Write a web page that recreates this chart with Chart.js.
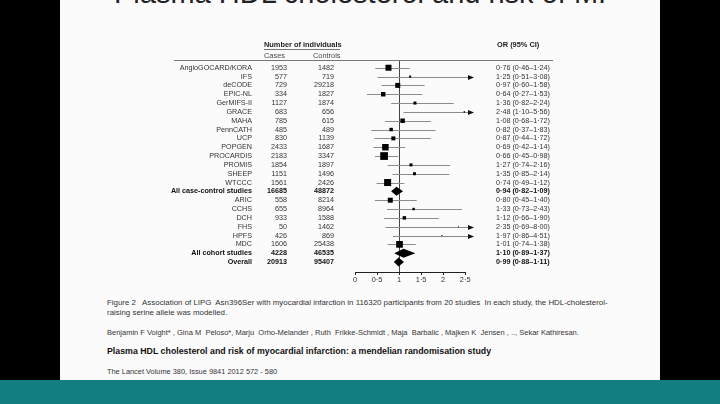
<!DOCTYPE html>
<html>
<head>
<meta charset="utf-8">
<script src="https://cdn.jsdelivr.net/npm/chart.js@4.4.1/dist/chart.umd.min.js"></script>
<style>
  html, body { margin: 0; padding: 0; }
  body { width: 720px; height: 404px; background: #000; position: relative; overflow: hidden; font-family: 'Liberation Sans', sans-serif; }
  #paper { position: absolute; left: 60px; top: 0; width: 600px; height: 380px; background: #fcfbfc; }
  #band { position: absolute; left: 0; top: 380px; width: 720px; height: 24px; background: #127e7f; }
  #slideTitle { position: absolute; left: 114px; top: -21px; font-size: 29px; line-height: 28px; color: #222; white-space: nowrap; }
  .cap { position: absolute; left: 107px; font-size: 7.4px; color: #333; white-space: nowrap; }
  #wrap { position: absolute; left: 0; top: 0; width: 720px; height: 404px; }
</style>
</head>
<body>
<div id="paper"></div>
<div id="band"></div>
<div id="slideTitle">Plasma HDL cholesterol and risk of MI</div>
<div class="cap" style="top:298px; font-size:7.9px">Figure 2&nbsp;&nbsp; Association of LIPG&nbsp; Asn396Ser with myocardial infarction in 116320 participants from 20 studies&nbsp; In each study, the HDL-cholesterol-</div>
<div class="cap" style="top:308px; font-size:7.9px">raising serine allele was modelled.</div>
<div class="cap" style="top:328px; font-size:7.5px">Benjamin F Voight* , Gina M&nbsp; Peloso*, Marju&nbsp; Orho-Melander , Ruth&nbsp; Frikke-Schmidt , Maja&nbsp; Barbalic , Majken K&nbsp; Jensen , .., Sekar Kathiresan.</div>
<div class="cap" style="top:346px; font-weight:bold; font-size:8.8px; color:#111">Plasma HDL cholesterol and risk of myocardial infarction: a mendelian randomisation study</div>
<div class="cap" style="top:367px">The Lancet Volume 380, Issue 9841 2012 572 - 580</div>
<div id="wrap"><canvas id="forest" width="720" height="404"></canvas></div>
<script>
// study rows, top to bottom
const studies = ['AngioGOCARD/KORA', 'IFS', 'deCODE', 'EPIC-NL', 'GerMIFS-II', 'GRACE', 'MAHA', 'PennCATH',
  'UCP', 'POPGEN', 'PROCARDIS', 'PROMIS', 'SHEEP', 'WTCCC', 'All case-control studies',
  'ARIC', 'CCHS', 'DCH', 'FHS', 'HPFS', 'MDC', 'All cohort studies', 'Overall'];
const cases = [1953, 577, 729, 334, 1127, 683, 785, 485, 830, 2433, 2183, 1854, 1151, 1561, 16685,
  558, 655, 933, 50, 426, 1606, 4228, 20913];
const controls = [1482, 719, 29218, 1827, 1874, 656, 615, 489, 1139, 1687, 3347, 1897, 1496, 2426, 48872,
  8214, 8964, 1588, 1462, 869, 25438, 46535, 95407];
const oddsRatio = [0.76, 1.25, 0.97, 0.64, 1.36, 2.48, 1.08, 0.82, 0.87, 0.69, 0.66, 1.27, 1.35, 0.74, 0.94,
  0.80, 1.33, 1.12, 2.35, 1.97, 1.01, 1.10, 0.99];
const ciLow = [0.46, 0.51, 0.60, 0.27, 0.82, 1.10, 0.68, 0.37, 0.44, 0.42, 0.45, 0.74, 0.85, 0.49, 0.82,
  0.45, 0.73, 0.66, 0.69, 0.86, 0.74, 0.89, 0.88];
const ciHigh = [1.24, 3.08, 1.58, 1.53, 2.24, 5.56, 1.72, 1.83, 1.72, 1.14, 0.98, 2.16, 2.14, 1.12, 1.09,
  1.40, 2.43, 1.90, 8.00, 4.51, 1.38, 1.37, 1.11];
// relative study weight (box area), 0 for pooled rows
const weights = [36, 4, 25, 20, 9, 2, 20, 12, 16, 42, 60, 9, 9, 49, 0, 25, 6, 12, 1, 1, 45, 0, 0];
const pooled = [14, 21, 22];
const xTicks = [0, 0.5, 1, 1.5, 2, 2.5];
const xMax = 2.7;

const fmt = v => v.toFixed(2).replace('.', '·');

const boxes = [];
const boxRadius = [];
studies.forEach((s, i) => {
  if (pooled.includes(i)) return;
  boxes.push({ x: oddsRatio[i], y: i });
  boxRadius.push(Math.sqrt(weights[i] / 2));
});

const forestPlugin = {
  id: 'forest',
  beforeDatasetsDraw(chart) {
    const { ctx, scales: { x, y }, chartArea } = chart;
    ctx.save();
    // reference line at OR = 1
    ctx.strokeStyle = '#444';
    ctx.lineWidth = 1;
    ctx.beginPath();
    ctx.moveTo(Math.round(x.getPixelForValue(1)) + 0.5, 61);
    ctx.lineTo(Math.round(x.getPixelForValue(1)) + 0.5, chartArea.bottom);
    ctx.stroke();
    // axis line
    ctx.strokeStyle = '#222';
    ctx.beginPath();
    ctx.moveTo(x.getPixelForValue(0), chartArea.bottom + 0.5);
    ctx.lineTo(x.getPixelForValue(2.5), chartArea.bottom + 0.5);
    ctx.stroke();
    // confidence intervals
    studies.forEach((s, i) => {
      if (pooled.includes(i)) return;
      const py = Math.round(y.getPixelForValue(i)) + 0.5;
      const x0 = x.getPixelForValue(ciLow[i]);
      const over = ciHigh[i] > xMax;
      const x1 = x.getPixelForValue(Math.min(ciHigh[i], xMax));
      ctx.strokeStyle = '#8c8c8c';
      ctx.beginPath();
      ctx.moveTo(x0, py);
      ctx.lineTo(over ? x1 - 4 : x1, py);
      ctx.stroke();
      if (over) {
        ctx.fillStyle = '#111';
        ctx.beginPath();
        ctx.moveTo(x1, py);
        ctx.lineTo(x1 - 6, py - 2.5);
        ctx.lineTo(x1 - 6, py + 2.5);
        ctx.closePath();
        ctx.fill();
      }
    });
    ctx.restore();
  },
  afterDatasetsDraw(chart) {
    const { ctx, scales: { x, y } } = chart;
    ctx.save();
    // pooled diamonds
    pooled.forEach(i => {
      const py = y.getPixelForValue(i);
      ctx.fillStyle = '#000';
      ctx.beginPath();
      ctx.moveTo(x.getPixelForValue(ciLow[i]), py);
      ctx.lineTo(x.getPixelForValue(oddsRatio[i]), py - 4.5);
      ctx.lineTo(x.getPixelForValue(ciHigh[i]), py);
      ctx.lineTo(x.getPixelForValue(oddsRatio[i]), py + 4.5);
      ctx.closePath();
      ctx.fill();
    });
    // table columns
    ctx.textBaseline = 'middle';
    studies.forEach((s, i) => {
      const py = y.getPixelForValue(i);
      const bold = pooled.includes(i);
      ctx.fillStyle = bold ? '#111' : '#333';
      ctx.font = (bold ? 'bold ' : '') + '7.2px "Liberation Sans"';
      ctx.textAlign = 'right';
      ctx.fillText(s, 252, py);
      ctx.fillText(String(cases[i]), 287, py);
      ctx.fillText(String(controls[i]), 334, py);
      ctx.textAlign = 'left';
      ctx.fillText(fmt(oddsRatio[i]) + ' (' + fmt(ciLow[i]) + '–' + fmt(ciHigh[i]) + ')', 496, py);
    });
    // headers
    ctx.fillStyle = '#222';
    ctx.font = 'bold 7.4px "Liberation Sans"';
    ctx.textAlign = 'left';
    ctx.fillText('Number of individuals', 264, 44.5);
    ctx.fillText('OR (95% CI)', 497, 45);
    ctx.font = '7.4px "Liberation Sans"';
    ctx.fillStyle = '#444';
    ctx.fillText('Cases', 264, 56);
    ctx.fillText('Controls', 313, 56);
    ctx.strokeStyle = '#777';
    ctx.lineWidth = 1;
    ctx.beginPath();
    ctx.moveTo(264, 49.5); ctx.lineTo(340, 49.5);
    ctx.moveTo(174, 60.5); ctx.lineTo(553, 60.5);
    ctx.stroke();
    ctx.restore();
  }
};

new Chart(document.getElementById('forest'), {
  type: 'scatter',
  data: {
    datasets: [{
      data: boxes,
      pointStyle: 'rect',
      pointRadius: boxRadius,
      pointHoverRadius: boxRadius,
      backgroundColor: '#000',
      borderWidth: 0
    }]
  },
  options: {
    responsive: false,
    animation: false,
    devicePixelRatio: 1,
    layout: { padding: { left: 355, right: 246, top: 62, bottom: 118 } },
    plugins: { legend: { display: false }, tooltip: { enabled: false } },
    scales: {
      x: {
        type: 'linear', min: 0, max: xMax,
        afterFit: s => { s.height = 14; },
        afterBuildTicks: s => { s.ticks = xTicks.map(v => ({ value: v })); },
        border: { display: false },
        grid: { drawOnChartArea: false, tickLength: 3, color: '#222' },
        ticks: { padding: 1, color: '#333', font: { family: 'Liberation Sans', size: 7.4 }, callback: v => v === 0 ? '0' : String(v).replace('.', '·') }
      },
      y: { type: 'linear', min: -0.65, max: 23.13, reverse: true, display: false }
    }
  },
  plugins: [forestPlugin]
});
</script>
</body>
</html>
